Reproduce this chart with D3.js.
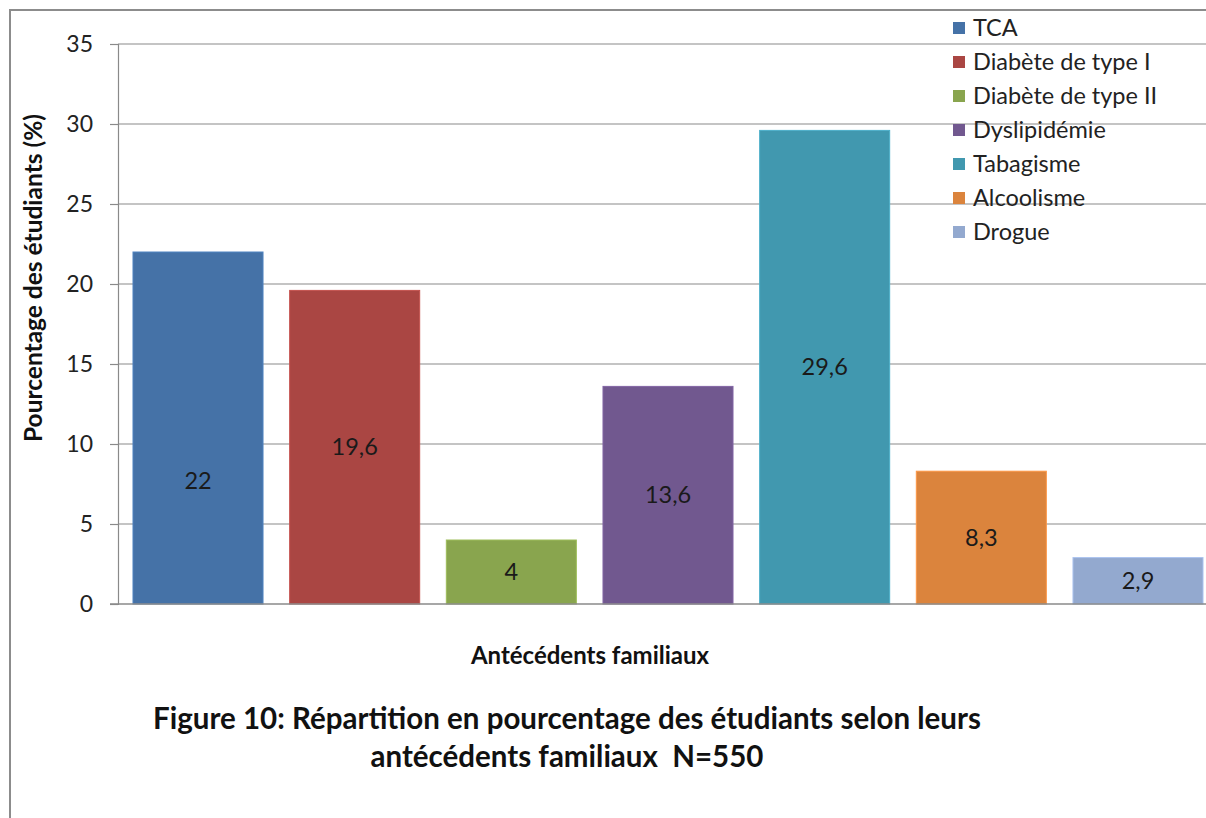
<!DOCTYPE html>
<html>
<head>
<meta charset="utf-8">
<script src="https://cdn.jsdelivr.net/npm/d3@7"></script>
<style>
  html, body { margin: 0; padding: 0; background: #fff; }
  svg { display: block; font-family: Lato, "Open Sans", sans-serif; }
</style>
</head>
<body>
<svg id="chart" width="1206" height="818"></svg>
<script>
// ---- data ----
const categories = ["TCA", "Diabète de type I", "Diabète de type II", "Dyslipidémie", "Tabagisme", "Alcoolisme", "Drogue"];
const values = [22, 19.6, 4, 13.6, 29.6, 8.3, 2.9];
const valueLabels = ["22", "19,6", "4", "13,6", "29,6", "8,3", "2,9"];
const labelAt = [7.7, 9.8, 2, 6.8, 14.8, 4.15, 1.45]; // label anchor in data units
const colors = ["#4572A7", "#AA4643", "#89A54E", "#71588F", "#4198AF", "#DB843D", "#93A9CF"];
const yTicks = [0, 5, 10, 15, 20, 25, 30, 35];
const yTitle = "Pourcentage des étudiants (%)";
const xTitle = "Antécédents familiaux";
const titleLines = ["Figure 10: Répartition en pourcentage des étudiants selon leurs", "antécédents familiaux  N=550"];

const svg = d3.select("#chart");
const W = 1206, H = 818;
svg.append("rect").attr("width", W).attr("height", H).attr("fill", "#fff");

// outer border (chart area, cropped at right/bottom)
svg.append("path").attr("d", `M10,${H} V10 H${W}`).attr("fill", "none").attr("stroke", "#8c8c8c").attr("stroke-width", 2);

const plot = { left: 118, top: 44, bottom: 604, right: 1218 };
const x = d3.scaleBand().domain(categories).range([plot.left, plot.right]).paddingInner(0.17).paddingOuter(0.0957);
const y = d3.scaleLinear().domain([0, 35]).range([plot.bottom, plot.top]);

// gridlines
svg.append("g").selectAll("line").data(yTicks.filter(d => d > 0)).join("line")
  .attr("x1", plot.left).attr("x2", W).attr("y1", d => y(d)).attr("y2", d => y(d))
  .attr("stroke", "#8a8a8a").attr("stroke-width", 1.2);

// y axis
const yAxis = d3.axisLeft(y).tickValues(yTicks).tickSize(8).tickPadding(17).tickFormat(d3.format("d"));
const yg = svg.append("g").attr("transform", `translate(${plot.left},0)`).call(yAxis);
yg.select(".domain").attr("stroke", "#8a8a8a").attr("stroke-width", 1.2);
yg.selectAll(".tick line").attr("stroke", "#8a8a8a").attr("stroke-width", 1.2);
yg.selectAll(".tick text").attr("font-size", 23).attr("fill", "#222").attr("font-family", "Lato, sans-serif");

// bars
svg.append("g").selectAll("rect").data(categories).join("rect")
  .attr("x", d => x(d)).attr("width", x.bandwidth())
  .attr("y", (d, i) => y(values[i])).attr("height", (d, i) => y(0) - y(values[i]))
  .attr("fill", (d, i) => colors[i])
  .attr("stroke", (d, i) => d3.color(colors[i]).brighter(0.4)).attr("stroke-width", 1);

// x axis line
svg.append("line").attr("x1", plot.left - 8).attr("x2", W).attr("y1", y(0)).attr("y2", y(0))
  .attr("stroke", "#8a8a8a").attr("stroke-width", 1.5);

// value labels
svg.append("g").selectAll("text").data(categories).join("text")
  .attr("x", d => x(d) + x.bandwidth() / 2)
  .attr("y", (d, i) => y(labelAt[i]))
  .attr("dy", "0.35em")
  .attr("text-anchor", "middle").attr("font-size", 23.5).attr("fill", "#1a1a1a")
  .text((d, i) => valueLabels[i]);

// legend
const lg = svg.append("g").attr("transform", "translate(953,28)");
const rows = lg.selectAll("g").data(categories).join("g").attr("transform", (d, i) => `translate(0,${i * 34})`);
rows.append("rect").attr("x", 0).attr("y", -6).attr("width", 12).attr("height", 12).attr("fill", (d, i) => colors[i]);
rows.append("text").attr("x", 20).attr("dy", "0.35em").attr("font-size", 23.5).attr("fill", "#222").text(d => d);

// y title
svg.append("text").attr("transform", "translate(42,278) rotate(-90)")
  .attr("text-anchor", "middle").attr("font-size", 24.5).attr("font-weight", "bold").attr("fill", "#111")
  .text(yTitle);

// x title
svg.append("text").attr("x", 590).attr("y", 664).attr("text-anchor", "middle")
  .attr("font-size", 24).attr("font-weight", "bold").attr("fill", "#111").text(xTitle);

// figure caption
svg.append("g").selectAll("text").data(titleLines).join("text")
  .attr("x", 567).attr("y", (d, i) => 729 + i * 38).attr("text-anchor", "middle")
  .style("white-space", "pre").attr("xml:space", "preserve")
  .attr("font-size", 29.5).attr("font-weight", "bold").attr("fill", "#111").text(d => d);
</script>
</body>
</html>
